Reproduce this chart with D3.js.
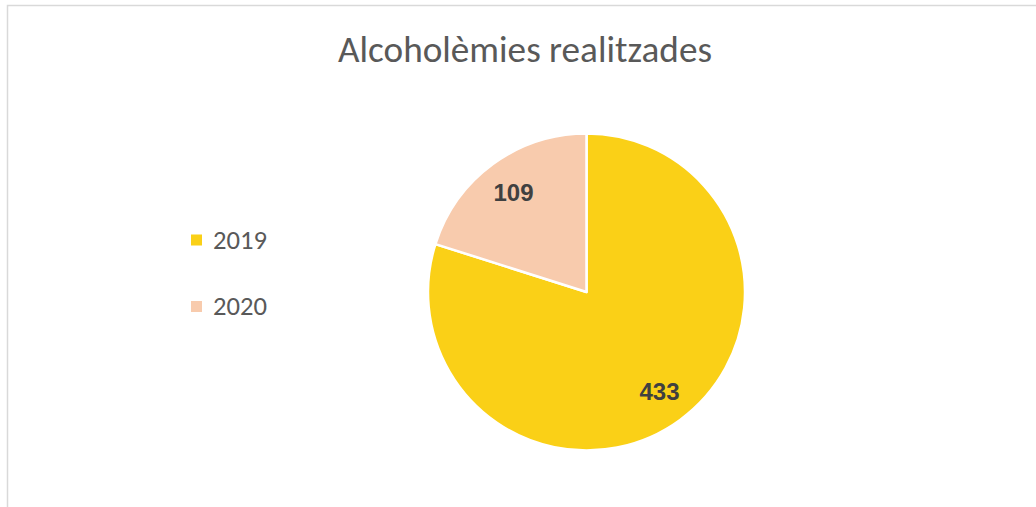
<!DOCTYPE html>
<html><head><meta charset="utf-8">
<script src="https://cdn.jsdelivr.net/npm/d3@7"></script>
<style>body{margin:0;background:#fff}svg{display:block}</style>
</head><body>
<svg id="c" width="1036" height="507"></svg>
<script>
const categories = ["2019", "2020"];
const values = [433, 109];
const colors = ["#FAD017", "#F8CBAD"];
const title = "Alcoholèmies realitzades";

const svg = d3.select("#c");
svg.append("rect").attr("x", 7.5).attr("y", 5.5).attr("width", 1040).attr("height", 520)
  .attr("fill", "#fff").attr("stroke", "#d9d9d9").attr("stroke-width", 1.5);

const font = "Carlito, 'Open Sans', 'Liberation Sans', Arial, sans-serif";

// fit text to a target width
function fit(sel, targetW, startSize) {
  sel.attr("font-size", startSize);
  const w = sel.node().getComputedTextLength();
  if (w > 0) sel.attr("font-size", startSize * targetW / w);
}

const t = svg.append("text").attr("x", 525).attr("y", 62).attr("text-anchor", "middle")
  .attr("font-family", font).attr("fill", "#595959").text(title);
fit(t, 374, 30);

const cx = 586.5, cy = 292, r = 158.5;
const pie = d3.pie().sort(null).value(d => d)(values);
const arc = d3.arc().innerRadius(0).outerRadius(r);
const g = svg.append("g").attr("transform", `translate(${cx},${cy})`);
g.selectAll("path").data(pie).join("path").attr("d", arc)
  .attr("fill", (d, i) => colors[i]).attr("stroke", "#fff").attr("stroke-width", 2.5).attr("stroke-linejoin", "round");

const labelArc = d3.arc().innerRadius(r * 0.78).outerRadius(r * 0.78);
g.selectAll("text").data(pie).join("text")
  .attr("transform", d => `translate(${labelArc.centroid(d)})`)
  .attr("text-anchor", "middle").attr("dy", "0.36em")
  .attr("font-family", "'Liberation Sans', Arial, sans-serif").attr("font-weight", "bold").attr("font-size", 24)
  .attr("fill", "#404040").text(d => d.data);

const leg = svg.append("g");
const ly = d3.scalePoint().domain(categories).range([240, 306.5]);
categories.forEach((c, i) => {
  const y = ly(c);
  leg.append("rect").attr("x", 191).attr("y", y - 5.5).attr("width", 11).attr("height", 11).attr("fill", colors[i]);
  const tx = leg.append("text").attr("x", 213).attr("y", y + 8.5)
    .attr("font-family", font).attr("fill", "#595959").text(c);
  fit(tx, 54, 26);
});
</script>
</body></html>
